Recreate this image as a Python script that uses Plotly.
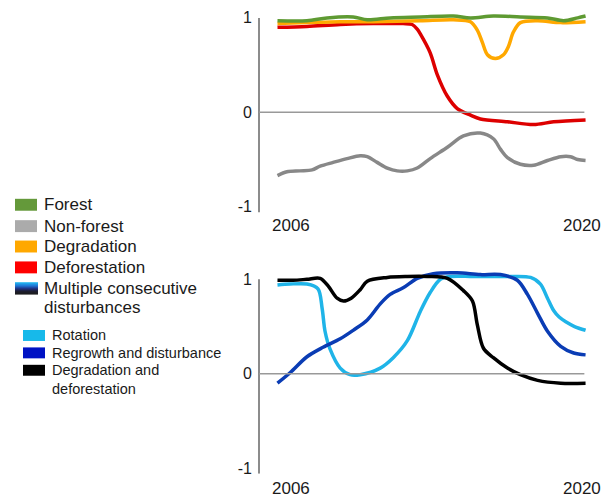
import plotly.graph_objects as go

# ---------------------------------------------------------------- data
x_tick_years = [2006, 2020]
x_tick_text = ["2006", "2020"]
y_tick_vals = [1, 0, -1]
y_tick_text = ["1", "0", "-1"]

# Upper panel: single trajectories
forest_t = [2006.0, 2007.34, 2008.25, 2009.44, 2010.08, 2011.12, 2012.49, 2013.99,
            2014.77, 2015.81, 2017.04, 2018.27, 2019.0, 2019.64, 2020.0]
forest_v = [0.97, 0.97, 1.0, 1.01, 0.98, 1.0, 1.01, 1.02,
            1.0, 1.02, 1.01, 1.0, 0.97, 1.0, 1.02]

nonforest_t = [2006.0, 2006.43, 2007.02, 2007.57, 2007.94, 2008.53, 2009.16, 2009.76,
               2010.08, 2010.53, 2010.99, 2011.44, 2011.9, 2012.35, 2012.94, 2013.72,
               2014.45, 2015.22, 2015.81, 2016.13, 2016.45, 2017.04, 2017.64, 2018.27,
               2018.87, 2019.32, 2019.64, 2020.0]
nonforest_v = [-0.67, -0.63, -0.62, -0.61, -0.57, -0.53, -0.49, -0.46,
               -0.47, -0.53, -0.59, -0.62, -0.62, -0.59, -0.49, -0.37,
               -0.25, -0.22, -0.28, -0.39, -0.48, -0.55, -0.56, -0.51,
               -0.47, -0.47, -0.50, -0.51]

degradation_t = [2006.0, 2007.34, 2008.85, 2010.35, 2012.49, 2013.99, 2014.77, 2015.08,
                 2015.31, 2015.54, 2015.9, 2016.27, 2016.5, 2016.72, 2017.04, 2017.82,
                 2018.87, 2020.0]
degradation_v = [0.94, 0.95, 0.96, 0.96, 0.97, 0.98, 0.96, 0.87,
                 0.74, 0.61, 0.57, 0.61, 0.70, 0.85, 0.95, 0.97,
                 0.95, 0.96]

deforestation_t = [2006.0, 2007.34, 2008.85, 2010.35, 2011.71, 2012.12, 2012.35, 2012.49,
                   2012.94, 2013.26, 2013.72, 2014.17, 2014.77, 2015.22, 2016.45, 2017.64,
                   2018.55, 2020.0]
deforestation_v = [0.90, 0.91, 0.93, 0.94, 0.94, 0.93, 0.88, 0.83,
                   0.63, 0.40, 0.17, 0.04, -0.03, -0.07, -0.10, -0.13,
                   -0.10, -0.08]

# Lower panel: multiple consecutive disturbances
rotation_t = [2006.0, 2006.57, 2007.34, 2007.84, 2008.03, 2008.16, 2008.39, 2008.85,
              2009.3, 2009.76, 2010.67, 2011.26, 2011.9, 2012.49, 2012.94, 2013.4,
              2013.85, 2014.9, 2016.45, 2017.5, 2017.95, 2018.27, 2018.55, 2018.8,
              2019.1, 2019.5, 2020.0]
rotation_v = [0.94, 0.95, 0.95, 0.90, 0.69, 0.45, 0.26, 0.06,
              -0.01, -0.01, 0.06, 0.17, 0.35, 0.66, 0.86, 1.0,
              1.03, 1.03, 1.03, 1.02, 0.95, 0.80, 0.67, 0.60,
              0.55, 0.50, 0.46]

regrowth_t = [2006.0, 2006.57, 2007.34, 2008.07, 2008.85, 2009.44, 2010.08, 2010.67,
              2011.12, 2011.71, 2012.35, 2013.08, 2014.17, 2015.22, 2016.13, 2016.9,
              2017.36, 2017.82, 2018.27, 2018.87, 2019.46, 2020.0]
regrowth_v = [-0.10, 0.01, 0.18, 0.28, 0.37, 0.46, 0.57, 0.74,
              0.84, 0.91, 1.01, 1.06, 1.07, 1.05, 1.05, 0.99,
              0.84, 0.64, 0.45, 0.29, 0.22, 0.20]

degr_defor_t = [2006.0, 2006.71, 2007.34, 2007.94, 2008.3, 2008.71, 2009.0, 2009.35,
                2009.76, 2010.08, 2010.99, 2011.9, 2012.81, 2013.72, 2014.45, 2014.86,
                2015.08, 2015.36, 2015.81, 2016.45, 2017.04, 2017.82, 2018.87, 2020.0]
degr_defor_v = [0.99, 0.99, 1.0, 1.01, 0.93, 0.80, 0.77, 0.80,
                0.89, 0.98, 1.02, 1.03, 1.03, 1.01, 0.88, 0.77,
                0.52, 0.27, 0.17, 0.06, -0.01, -0.07, -0.10, -0.10]

upper_names = ["Forest", "Non-forest", "Degradation", "Deforestation"]
group_name = "Multiple consecutive disturbances"
lower_names = ["Rotation", "Regrowth and disturbance", "Degradation and deforestation"]

# ---------------------------------------------------------------- styling
W, H = 602, 502
FONT = "Liberation Sans, Arial, Helvetica, sans-serif"
TEXT = "#1a1a1a"

line_color = {
    "Forest": "#5E9A32",
    "Non-forest": "#888888",
    "Degradation": "#FFA800",
    "Deforestation": "#DD0000",
    "Rotation": "#1FB4E8",
    "Regrowth and disturbance": "#0A3CB4",
    "Degradation and deforestation": "#000000",
}
swatch_color = dict(line_color)
swatch_color["Non-forest"] = "#ABABAB"
swatch_color["Forest"] = "#64993A"
swatch_color["Deforestation"] = "#FF0000"
swatch_color["Regrowth and disturbance"] = "#0012C4"
swatch_color["Rotation"] = "#17B9EA"


def fx(p):
    return p / W


def fy(p):
    return 1 - p / H


x_range = [2005.16, 2020.02]
y_range = [-1.06, 1.12]

fig = go.Figure()

upper = [
    ("Non-forest", nonforest_t, nonforest_v),
    ("Deforestation", deforestation_t, deforestation_v),
    ("Degradation", degradation_t, degradation_v),
    ("Forest", forest_t, forest_v),
]
lower = [
    ("Rotation", rotation_t, rotation_v),
    ("Regrowth and disturbance", regrowth_t, regrowth_v),
    ("Degradation and deforestation", degr_defor_t, degr_defor_v),
]

for name, t, v in upper:
    fig.add_trace(go.Scatter(x=t, y=v, name=name, mode="lines", xaxis="x", yaxis="y",
                             line=dict(color=line_color[name], width=3.5,
                                       shape="spline", smoothing=0.9),
                             showlegend=False, hoverinfo="skip"))
for name, t, v in lower:
    fig.add_trace(go.Scatter(x=t, y=v, name=name, mode="lines", xaxis="x2", yaxis="y2",
                             line=dict(color=line_color[name], width=3.5,
                                       shape="spline", smoothing=0.9),
                             showlegend=False, hoverinfo="skip"))

yax = dict(range=y_range, tickvals=y_tick_vals, ticktext=y_tick_text, showgrid=False,
           zeroline=False, showline=False, ticks="", ticklabelstandoff=6,
           tickfont=dict(family=FONT, size=16, color=TEXT))
xax = dict(range=x_range, showgrid=False, zeroline=False, showline=False,
           showticklabels=False, ticks="", domain=[fx(259), fx(586)])

fig.update_layout(
    width=W, height=H,
    margin=dict(l=0, r=0, t=0, b=0),
    paper_bgcolor="white", plot_bgcolor="white",
    xaxis=dict(xax, anchor="y"),
    yaxis=dict(yax, anchor="x", domain=[fy(213.7), fy(6.6)]),
    xaxis2=dict(xax, anchor="y2"),
    yaxis2=dict(yax, anchor="x2", domain=[fy(476.7), fy(269.6)]),
)

shapes = []
annotations = []
for xs, ys, label_shift in (("x", "y", -13), ("x2", "y2", -15)):
    # vertical axis line and zero reference line
    shapes.append(dict(type="line", xref=xs + " domain", yref=ys, x0=0, x1=0,
                       y0=y_range[0], y1=1, line=dict(color="#666666", width=1.5)))
    shapes.append(dict(type="line", xref=xs + " domain", yref=ys, x0=0, x1=0.995,
                       y0=0, y1=0, line=dict(color="#999999", width=1.5)))
    for yr, txt, shift in zip(x_tick_years, x_tick_text, (14, -4)):
        annotations.append(dict(x=yr, y=0, xref=xs, yref=ys + " domain", text=txt,
                                showarrow=False, xanchor="center", yanchor="middle",
                                xshift=shift, yshift=label_shift,
                                font=dict(family=FONT, size=17, color=TEXT)))

# ---- legend, upper group
big = 17
for i, name in enumerate(upper_names):
    cy = [206, 227.5, 248, 269][i]
    shapes.append(dict(type="rect", xref="paper", yref="paper", x0=fx(15), x1=fx(37),
                       y0=fy(cy + 6), y1=fy(cy - 6), line=dict(width=0),
                       fillcolor=swatch_color[name]))
    annotations.append(dict(x=fx(42), y=fy(cy), xref="paper", yref="paper", text=name,
                            showarrow=False, xanchor="left", yanchor="middle",
                            font=dict(family=FONT, size=big, color=TEXT)))

# gradient swatch for the multiple-disturbance group
stops = [(0.0, (0, 180, 240)), (0.3, (0, 100, 210)), (0.55, (0, 20, 110)),
         (0.75, (0, 0, 20)), (1.0, (0, 0, 0))]


def blend(f):
    for (a, ca), (b, cb) in zip(stops[:-1], stops[1:]):
        if a <= f <= b:
            k = (f - a) / (b - a)
            return "rgb(%d,%d,%d)" % tuple(round(ca[j] + (cb[j] - ca[j]) * k) for j in range(3))
    return "rgb(0,0,0)"


top_px, bot_px, n = 284.0, 296.0, 12
for k in range(n):
    p0 = top_px + (bot_px - top_px) * k / n
    p1 = top_px + (bot_px - top_px) * (k + 1) / n
    shapes.append(dict(type="rect", xref="paper", yref="paper", x0=fx(15), x1=fx(38),
                       y0=fy(p1 + 0.3), y1=fy(p0), line=dict(width=0),
                       fillcolor=blend((k + 0.5) / n)))
g_words = group_name.split(" ")
for txt, cy in ((" ".join(g_words[:2]), 290), (g_words[2], 309)):
    annotations.append(dict(x=fx(42), y=fy(cy), xref="paper", yref="paper", text=txt,
                            showarrow=False, xanchor="left", yanchor="middle",
                            font=dict(family=FONT, size=big, color=TEXT)))

# ---- legend, lower group
small = 14.5
for i, name in enumerate(lower_names):
    cy = [337.5, 355, 372.5][i]
    shapes.append(dict(type="rect", xref="paper", yref="paper", x0=fx(23), x1=fx(45),
                       y0=fy(cy + 5.5), y1=fy(cy - 5.5), line=dict(width=0),
                       fillcolor=swatch_color[name]))
    lines = [name]
    if name == "Degradation and deforestation":
        lines = ["Degradation and", "deforestation"]
    for j, txt in enumerate(lines):
        annotations.append(dict(x=fx(50), y=fy(cy + 19 * j), xref="paper", yref="paper",
                                text=txt, showarrow=False, xanchor="left",
                                yanchor="middle",
                                font=dict(family=FONT, size=small, color=TEXT)))

fig.update_layout(shapes=shapes, annotations=annotations)
fig.write_html("out.html")
